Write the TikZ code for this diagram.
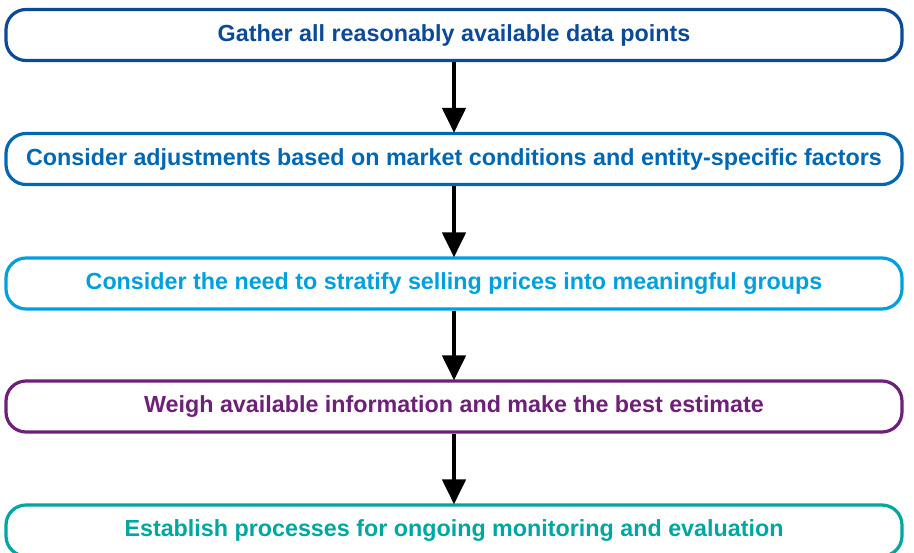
\documentclass[tikz,border=0pt]{standalone}
\usepackage{fontspec}
\setmainfont{Liberation Sans}
\usetikzlibrary{arrows.meta}
\definecolor{cA}{HTML}{0B4A97}
\definecolor{cB}{HTML}{0067B3}
\definecolor{cC}{HTML}{00A0DE}
\definecolor{cD}{HTML}{6D2077}
\definecolor{cE}{HTML}{00A6A0}
\tikzset{
  stepbox/.style={draw=#1, text=#1, line width=3.2pt, rounded corners=20pt, fill=white,
    minimum width=896pt, minimum height=51pt, inner sep=0pt,
    font=\fontsize{23.3}{27}\selectfont\bfseries},
  flowarrow/.style={line width=4.5pt, -{Triangle[length=25pt,width=23pt]}, shorten >=-1pt}
}
\begin{document}
\begin{tikzpicture}[x=1pt,y=-1pt]
\useasboundingbox (0,0) rectangle (914,553);
\clip (0,0) rectangle (914,553);
\node[stepbox=cA] (s1) at (454,35) {Gather all reasonably available data points};
\node[stepbox=cB] (s2) at (454,159) {Consider adjustments based on market conditions and entity-specific factors};
\node[stepbox=cC] (s3) at (454,283.5) {Consider the need to stratify selling prices into meaningful groups};
\node[stepbox=cD] (s4) at (454,406.5) {Weigh available information and make the best estimate};
\node[stepbox=cE] (s5) at (454,530.5) {Establish processes for ongoing monitoring and evaluation};
\draw[flowarrow] (s1.south) -- (s2.north);
\draw[flowarrow] (s2.south) -- (s3.north);
\draw[flowarrow] (s3.south) -- (s4.north);
\draw[flowarrow] (s4.south) -- (s5.north);
\end{tikzpicture}
\end{document}
